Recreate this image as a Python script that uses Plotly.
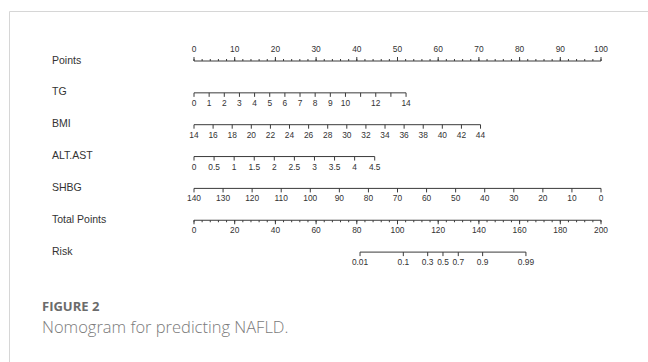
import shutil
import subprocess

import numpy as np
import plotly.graph_objects as go

# ---- nomogram scales -------------------------------------------------------
row_names = ["Points", "TG", "BMI", "ALT.AST", "SHBG", "Total Points", "Risk"]

points_major = list(range(0, 101, 10))
points_minor = list(range(0, 101, 2))

tg_ticks = list(range(0, 15))
tg_labels = ["0", "1", "2", "3", "4", "5", "6", "7", "8", "9", "10", "", "12", "", "14"]
tg_range = [0, 14]
tg_points = [0, 52.1]

bmi_ticks = list(range(14, 45, 2))
bmi_labels = [str(v) for v in bmi_ticks]
bmi_range = [14, 44]
bmi_points = [0, 70.4]

alt_ticks = [0, 0.5, 1, 1.5, 2, 2.5, 3, 3.5, 4, 4.5]
alt_labels = ["0", "0.5", "1", "1.5", "2", "2.5", "3", "3.5", "4", "4.5"]
alt_range = [0, 4.5]
alt_points = [0, 44.4]

shbg_ticks = list(range(140, -1, -10))
shbg_labels = [str(v) for v in shbg_ticks]
shbg_range = [140, 0]
shbg_points = [0, 100]

total_major = list(range(0, 201, 20))
total_minor = list(range(0, 201, 4))
total_max = 200

risk_ticks = [0.01, 0.1, 0.3, 0.5, 0.7, 0.9, 0.99]
risk_labels = ["0.01", "0.1", "0.3", "0.5", "0.7", "0.9", "0.99"]
risk_total_at_half = 122.35      # total points where risk = 0.5
risk_total_per_logit = 8.87      # total points per unit of linear predictor

# ---- page geometry (pixels) ------------------------------------------------
W, H = 648, 362
X0_PX, PX_PER_PT = 194.0, 4.07       # left end of the points scale
ROW0_PX, ROW_PX = 61.0, 31.85        # first row line and row spacing

LINE_COLOR = "#3a3a3a"
TEXT_COLOR = "#333333"


def narrow_font_available():
    """True when a condensed Arial-metric face is installed."""
    if shutil.which("fc-match") is None:
        return False
    try:
        out = subprocess.run(["fc-match", "Liberation Sans Narrow"],
                             capture_output=True, text=True, timeout=5).stdout
    except Exception:
        return False
    return "Narrow" in out


if narrow_font_available():
    FONT = "Liberation Sans Narrow, sans-serif"
    TICK_SIZE, NAME_SIZE = 9.5, 12
else:
    FONT = "Liberation Sans, Arial, sans-serif"
    TICK_SIZE, NAME_SIZE = 8.4, 10.5


def px(n):
    """pixel length -> y-axis (row) units"""
    return n / ROW_PX


def to_points(vals, vrange, prange):
    v = np.asarray(vals, dtype=float)
    return prange[0] + (v - vrange[0]) / (vrange[1] - vrange[0]) * (prange[1] - prange[0])


def total_to_points(t):
    return np.asarray(t, dtype=float) * 100.0 / total_max


def risk_to_points(p):
    p = np.asarray(p, dtype=float)
    lp = np.log(p / (1 - p))
    return total_to_points(risk_total_at_half + lp * risk_total_per_logit)


fig = go.Figure()


def add_scale(row, major_x, labels, minor_x=None, up=False):
    major_x = np.asarray(major_x)
    sign = -1 if up else 1
    # axis line
    fig.add_trace(go.Scatter(
        x=[major_x.min(), major_x.max()], y=[row, row], mode="lines",
        line=dict(color=LINE_COLOR, width=1), hoverinfo="skip", showlegend=False))
    # ticks
    xs, ys = [], []
    for x in major_x:
        xs += [x, x, None]
        ys += [row, row + sign * px(4), None]
    if minor_x is not None:
        for x in np.asarray(minor_x):
            xs += [x, x, None]
            ys += [row, row + sign * px(2), None]
    fig.add_trace(go.Scatter(
        x=xs, y=ys, mode="lines", line=dict(color=LINE_COLOR, width=1),
        hoverinfo="skip", showlegend=False))
    # tick labels
    fig.add_trace(go.Scatter(
        x=major_x, y=[row + sign * px(11)] * len(major_x), mode="text",
        text=labels, textposition="middle center",
        textfont=dict(family=FONT, size=TICK_SIZE, color=TEXT_COLOR),
        hoverinfo="skip", showlegend=False))


# Points
add_scale(0, points_major, [str(v) for v in points_major],
          minor_x=points_minor, up=True)
# predictors
add_scale(1, to_points(tg_ticks, tg_range, tg_points), tg_labels)
add_scale(2, to_points(bmi_ticks, bmi_range, bmi_points), bmi_labels)
add_scale(3, to_points(alt_ticks, alt_range, alt_points), alt_labels)
add_scale(4, to_points(shbg_ticks, shbg_range, shbg_points), shbg_labels)
# Total points
add_scale(5, total_to_points(total_major), [str(v) for v in total_major],
          minor_x=total_to_points(total_minor))
# Risk
add_scale(6, risk_to_points(risk_ticks), risk_labels)

# row names
x_name = (52 - X0_PX) / PX_PER_PT
fig.add_trace(go.Scatter(
    x=[x_name] * len(row_names), y=list(range(len(row_names))), mode="text",
    text=row_names, textposition="middle right",
    textfont=dict(family=FONT, size=NAME_SIZE, color=TEXT_COLOR),
    hoverinfo="skip", showlegend=False))

# caption
fig.add_annotation(x=40 / W, y=1 - 306 / H, xref="paper", yref="paper",
                   xanchor="left", yanchor="middle", showarrow=False,
                   text="<b>FIGURE 2</b>",
                   font=dict(family="Open Sans, sans-serif", size=13, color="#6b6b6b"))
fig.add_annotation(x=40 / W, y=1 - 326.5 / H, xref="paper", yref="paper",
                   xanchor="left", yanchor="middle", showarrow=False,
                   text="Nomogram for predicting NAFLD.",
                   font=dict(family="Open Sans, sans-serif", size=16.5, color="#7a7a7a",
                             weight=300))

# frame around the figure panel
fig.add_shape(type="rect", xref="paper", yref="paper",
              x0=9.5 / W, x1=1.2, y0=-0.2, y1=1 - 11.5 / H,
              line=dict(color="#d6d6d6", width=1), fillcolor="rgba(0,0,0,0)")

fig.update_layout(
    width=W, height=H, margin=dict(l=0, r=0, t=0, b=0),
    paper_bgcolor="white", plot_bgcolor="white",
    xaxis=dict(range=[-X0_PX / PX_PER_PT, (W - X0_PX) / PX_PER_PT],
               visible=False, fixedrange=True),
    yaxis=dict(range=[(H - ROW0_PX) / ROW_PX, -ROW0_PX / ROW_PX],
               visible=False, fixedrange=True),
)

fig.write_html("out.html")
